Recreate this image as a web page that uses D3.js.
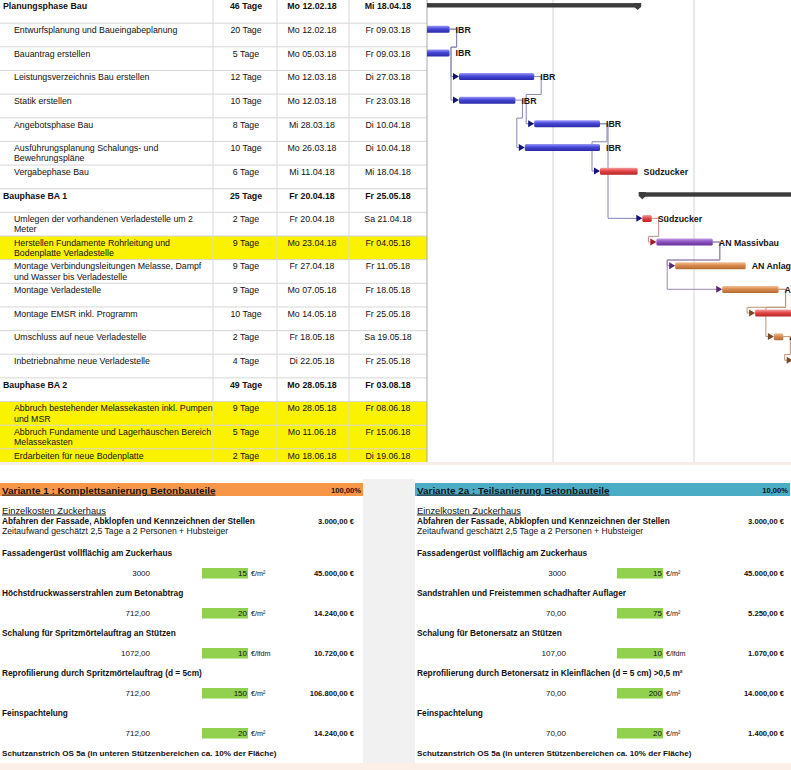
<!DOCTYPE html>
<html><head><meta charset="utf-8">
<script src="https://cdn.jsdelivr.net/npm/d3@7"></script>
<style>
body{margin:0;background:#fff;}
svg{display:block;font-family:"Liberation Sans",Arial,sans-serif;}
</style>
</head><body>
<svg id="c" width="791" height="770"></svg>
<script>
// ---------- Gantt data ----------
const taskNames = [
 ["Planungsphase Bau"],
 ["Entwurfsplanung und Baueingabeplanung"],
 ["Bauantrag erstellen"],
 ["Leistungsverzeichnis Bau erstellen"],
 ["Statik erstellen"],
 ["Angebotsphase Bau"],
 ["Ausführungsplanung Schalungs- und","Bewehrungspläne"],
 ["Vergabephase Bau"],
 ["Bauphase BA 1"],
 ["Umlegen der vorhandenen Verladestelle um 2","Meter"],
 ["Herstellen Fundamente Rohrleitung und","Bodenplatte Verladestelle"],
 ["Montage Verbindungsleitungen Melasse, Dampf","und Wasser bis Verladestelle"],
 ["Montage Verladestelle"],
 ["Montage EMSR inkl. Programm"],
 ["Umschluss auf neue Verladestelle"],
 ["Inbetriebnahme neue Verladestelle"],
 ["Bauphase BA 2"],
 ["Abbruch bestehender Melassekasten inkl. Pumpen","und MSR"],
 ["Abbruch Fundamente und Lagerhäuschen Bereich","Melassekasten"],
 ["Erdarbeiten für neue Bodenplatte"]
];
const durations = [46,20,5,12,10,8,10,6,25,2,9,9,9,10,2,4,49,9,5,2];
const startDates = ["2018-02-12","2018-02-12","2018-03-05","2018-03-12","2018-03-12","2018-03-28","2018-03-26","2018-04-11",
  "2018-04-20","2018-04-20","2018-04-23","2018-04-27","2018-05-07","2018-05-14","2018-05-18","2018-05-22",
  "2018-05-28","2018-05-28","2018-06-11","2018-06-18"];
const endDates = ["2018-04-18","2018-03-09","2018-03-09","2018-03-27","2018-03-23","2018-04-10","2018-04-10","2018-04-18",
  "2018-05-25","2018-04-21","2018-05-04","2018-05-11","2018-05-18","2018-05-25","2018-05-19","2018-05-25",
  "2018-08-03","2018-06-08","2018-06-15","2018-06-19"];
const summaryRows = [0,8,16];
const highlightRows = [10,17,18,19];
const resources = ["","IBR","IBR","IBR","IBR","IBR","IBR","Südzucker","","Südzucker","AN Massivbau","AN Anlagenbau",
  "AN Anlagenbau","Südzucker","AN Anlagenbau","Südzucker","","AN Massivbau","AN Massivbau","AN Massivbau"];
const links = [[1,[3,4]],[3,[5]],[4,[6]],[5,[7,9]],[9,[10]],[10,[11,12]],[12,[13]],[12,[14]],[14,[15]]];

// ---------- Cost tables data ----------
const panelTitles = ["Variante 1 : Komplettsanierung Betonbauteile","Variante 2a : Teilsanierung Betonbauteile"];
const panelShares = ["100,00%","10,00%"];
const introHeading = "Einzelkosten Zuckerhaus";
const introItem = "Abfahren der Fassade, Abklopfen und Kennzeichnen der Stellen";
const introCost = 3000;
const introNote = "Zeitaufwand geschätzt 2,5 Tage a 2 Personen + Hubsteiger";
const itemsV1 = ["Fassadengerüst vollflächig am Zuckerhaus","Höchstdruckwasserstrahlen zum Betonabtrag",
  "Schalung für Spritzmörtelauftrag an Stützen","Reprofilierung durch Spritzmörtelauftrag (d = 5cm)","Feinspachtelung"];
const qtyV1 = [3000,712,1072,712,712];
const priceV1 = [15,20,10,150,20];
const unitV1 = ["€/m²","€/m²","€/lfdm","€/m²","€/m²"];
const itemsV2 = ["Fassadengerüst vollflächig am Zuckerhaus","Sandstrahlen und Freistemmen schadhafter Auflager",
  "Schalung für Betonersatz an Stützen","Reprofilierung durch Betonersatz in Kleinflächen (d = 5 cm) >0,5 m²","Feinspachtelung"];
const qtyV2 = [3000,70,107,70,70];
const priceV2 = [15,75,10,200,20];
const unitV2 = ["€/m²","€/m²","€/lfdm","€/m²","€/m²"];
const qtyDecimals = [0,2,2,2,2];
const closingItem = "Schutzanstrich OS 5a (in unteren Stützenbereichen ca. 10% der Fläche)";

// ---------- styles ----------
const resColors = {
  "IBR": {g:["#9a9af8","#4646d6","#2a2aa6"], line:"#8686b4", arrow:"#14147a"},
  "Südzucker": {g:["#f6a4a4","#e24848","#b82424"], line:"#c08a8a", arrow:"#a81818"},
  "AN Massivbau": {g:["#c29ae0","#8c52c2","#683096"], line:"#9c88b0", arrow:"#5a2a6e"},
  "AN Anlagenbau": {g:["#f3c39a","#d98c4e","#b06a32"], line:"#b8957a", arrow:"#7a4a22"}
};

const svg = d3.select("#c");
const defs = svg.append("defs");
Object.entries(resColors).forEach(([k,c],i) => {
  const gr = defs.append("linearGradient").attr("id","g"+i).attr("x1",0).attr("x2",0).attr("y1",0).attr("y2",1);
  gr.append("stop").attr("offset","0%").attr("stop-color",c.g[0]);
  gr.append("stop").attr("offset","45%").attr("stop-color",c.g[1]);
  gr.append("stop").attr("offset","100%").attr("stop-color",c.g[2]);
  c.id = "g"+i;
});

const parse = d3.timeParse("%Y-%m-%d");
const starts = startDates.map(parse);
const endExcl = endDates.map(d => d3.timeDay.offset(parse(d),1));
const x = d3.scaleTime().domain([new Date(2018,2,12), new Date(2018,4,1)]).range([459,694]);
const rowH = 23.65, tableW = 427, chartBottom = 462;
const rowTop = i => i*rowH - 0.5;
const wd = ["So","Mo","Di","Mi","Do","Fr","Sa"];
const fmtDay = d3.timeFormat("%d.%m.%y");
const fmtDate = d => wd[d.getDay()] + " " + fmtDay(d);

defs.append("clipPath").attr("id","clipTop").append("rect").attr("x",0).attr("y",0).attr("width",791).attr("height",chartBottom);
defs.append("clipPath").attr("id","clipGantt").append("rect").attr("x",tableW).attr("y",0).attr("width",791-tableW).attr("height",chartBottom);

const topG = svg.append("g").attr("clip-path","url(#clipTop)");

topG.selectAll("rect.hl").data(highlightRows).join("rect")
  .attr("x",0).attr("y",i=>rowTop(i)).attr("width",tableW).attr("height",rowH).attr("fill","#fbf200");

const rowIdx = d3.range(1,21);
topG.selectAll("line.rl").data(rowIdx).join("line")
  .attr("x1",0).attr("x2",tableW).attr("y1",i=>rowTop(i)).attr("y2",i=>rowTop(i))
  .attr("stroke","#d6d6d6").attr("stroke-width",1);
[213,277,349].forEach(cx => topG.append("line").attr("x1",cx).attr("x2",cx).attr("y1",0).attr("y2",chartBottom)
  .attr("stroke","#d9d9d9"));
topG.append("line").attr("x1",tableW).attr("x2",tableW).attr("y1",0).attr("y2",chartBottom).attr("stroke","#a8a8a8");

const isSum = i => summaryRows.includes(i);
taskNames.forEach((lines,i) => {
  const t = rowTop(i), fw = isSum(i) ? "bold" : "normal";
  lines.forEach((ln,k) => topG.append("text").attr("x", isSum(i)?3:14).attr("y", t+9.8+k*10.2)
    .attr("font-size",8.8).attr("font-weight",fw).attr("fill","#111").text(ln));
  topG.append("text").attr("x",246).attr("y",t+9.8).attr("text-anchor","middle").attr("font-size",8.8)
    .attr("font-weight",fw).attr("fill","#111").text(durations[i]+" Tage");
  topG.append("text").attr("x",312).attr("y",t+9.8).attr("text-anchor","middle").attr("font-size",8.8)
    .attr("font-weight",fw).attr("fill","#111").text(fmtDate(starts[i]));
  topG.append("text").attr("x",388).attr("y",t+9.8).attr("text-anchor","middle").attr("font-size",8.8)
    .attr("font-weight",fw).attr("fill","#111").text(fmtDate(parse(endDates[i])));
});

// gantt
const g = svg.append("g").attr("clip-path","url(#clipGantt)");
const months = d3.timeMonth.range(new Date(2018,1,1), new Date(2018,7,1));
g.selectAll("line.m").data(months).join("line")
  .attr("x1",d=>x(d)).attr("x2",d=>x(d)).attr("y1",0).attr("y2",chartBottom).attr("stroke","#d4d4d4");

const linkG = g.append("g");
links.forEach(([f,tos]) => {
  const c = resColors[resources[f]] || resColors["IBR"];
  const x1 = x(endExcl[f]), y1 = rowTop(f)+6;
  const back = tos.filter(t => x(starts[t]) < x1+14);
  const xl = back.length ? d3.min(back, t => x(starts[t])) - 8 : 0;
  tos.forEach(t => {
    const x2 = x(starts[t]), y2 = rowTop(t)+6;
    const d = (x2 >= x1+14)
      ? `M${x1},${y1}H${x1+8}V${y2}H${x2-5}`
      : `M${x1},${y1}H${x1+7}V${y1+18}H${xl}V${y2}H${x2-5}`;
    linkG.append("path").attr("d",d).attr("fill","none").attr("stroke",c.line).attr("stroke-width",1);
    linkG.append("path").attr("d",`M${x2-6},${y2-3.5}L${x2},${y2}L${x2-6},${y2+3.5}Z`).attr("fill",c.arrow);
  });
});

d3.range(taskNames.length).forEach(i => {
  const xs = x(starts[i]), xe = x(endExcl[i]), t = rowTop(i);
  if (isSum(i)) {
    g.append("rect").attr("x",xs).attr("y",t+3.6).attr("width",xe-xs).attr("height",4.4).attr("fill","#3c3c3c");
    [xs,xe].forEach(xx => g.append("path")
      .attr("d",`M${xx-3.6},${t+3.4}h7.2v3.8l-3.6,3.4l-3.6,-3.4z`).attr("fill","#3c3c3c"));
  } else {
    const c = resColors[resources[i]] || resColors["IBR"];
    g.append("rect").attr("x",xs).attr("y",t+2.6).attr("width",xe-xs).attr("height",7)
      .attr("rx",1.5).attr("fill",`url(#${c.id})`);
    g.append("text").attr("x",xe+6).attr("y",t+9.6).attr("font-size",8.8).attr("font-weight","bold")
      .attr("fill","#161616").text(resources[i]);
  }
});

svg.append("rect").attr("x",0).attr("y",chartBottom).attr("width",791).attr("height",3).attr("fill","#f6ece8");

// ---------- cost panels ----------
const de = d3.formatLocale({decimal:",", thousands:".", grouping:[3], currency:["",""]});
const fmtMoney = v => de.format(",.2f")(v) + " €";
const fmtQty = (v,dec) => dec ? de.format(".2f")(v) : de.format("d")(v);

svg.append("rect").attr("x",363).attr("y",479).attr("width",52).attr("height",284).attr("fill","#f1f1f1");
svg.append("rect").attr("x",0).attr("y",763).attr("width",791).attr("height",7).attr("fill","#fcefe8");

const panels = [
  {x0:0, w:363, qtyR:150, gx:202, totR:354, pctR:361, fill:"#f79646", items:itemsV1, qty:qtyV1, price:priceV1, unit:unitV1},
  {x0:415, w:375, qtyR:566, gx:617, totR:784, pctR:788, fill:"#4bacc6", items:itemsV2, qty:qtyV2, price:priceV2, unit:unitV2}
];
panels.forEach((p,pi) => {
  const pg = svg.append("g");
  const tx = p.x0 + 2;
  pg.append("rect").attr("x",p.x0).attr("y",483).attr("width",p.w).attr("height",13).attr("fill",p.fill);
  pg.append("text").attr("x",tx).attr("y",493.6).attr("font-size",9.9).attr("font-weight","bold")
    .style("text-decoration","underline").attr("fill","#141414").text(panelTitles[pi]);
  pg.append("text").attr("x",p.pctR).attr("y",493).attr("text-anchor","end").attr("font-size",7.6)
    .attr("font-weight","bold").attr("fill","#141414").text(panelShares[pi]);
  pg.append("text").attr("x",tx).attr("y",513.5).attr("font-size",9.3).style("text-decoration","underline")
    .attr("fill","#111").text(introHeading);
  pg.append("text").attr("x",tx).attr("y",523.8).attr("font-size",8.3).attr("font-weight","bold")
    .attr("fill","#111").text(introItem);
  pg.append("text").attr("x",p.totR).attr("y",523.8).attr("text-anchor","end").attr("font-size",7.6)
    .attr("font-weight","bold").attr("fill","#111").text(fmtMoney(introCost));
  pg.append("text").attr("x",tx).attr("y",533.5).attr("font-size",8.6).attr("fill","#111").text(introNote);
  p.items.forEach((it,k) => {
    const yl = 556 + 40*k, yv = 576 + 40*k;
    pg.append("text").attr("x",tx).attr("y",yl).attr("font-size",8.3).attr("font-weight","bold")
      .attr("fill","#111").text(it);
    pg.append("text").attr("x",p.qtyR).attr("y",yv).attr("text-anchor","end").attr("font-size",8)
      .attr("fill","#111").text(fmtQty(p.qty[k], qtyDecimals[k]));
    pg.append("rect").attr("x",p.gx).attr("y",yv-8).attr("width",46).attr("height",10.5).attr("fill","#92d050");
    pg.append("text").attr("x",p.gx+45).attr("y",yv).attr("text-anchor","end").attr("font-size",8)
      .attr("fill","#111").text(p.price[k]);
    pg.append("text").attr("x",p.gx+49).attr("y",yv).attr("font-size",7.2).attr("fill","#111").text(p.unit[k]);
    pg.append("text").attr("x",p.totR).attr("y",yv).attr("text-anchor","end").attr("font-size",7.6)
      .attr("font-weight","bold").attr("fill","#111").text(fmtMoney(p.qty[k]*p.price[k]));
  });
  pg.append("text").attr("x",tx).attr("y",756).attr("font-size",8.1).attr("font-weight","bold")
    .attr("fill","#111").text(closingItem);
});
</script>
</body></html>
